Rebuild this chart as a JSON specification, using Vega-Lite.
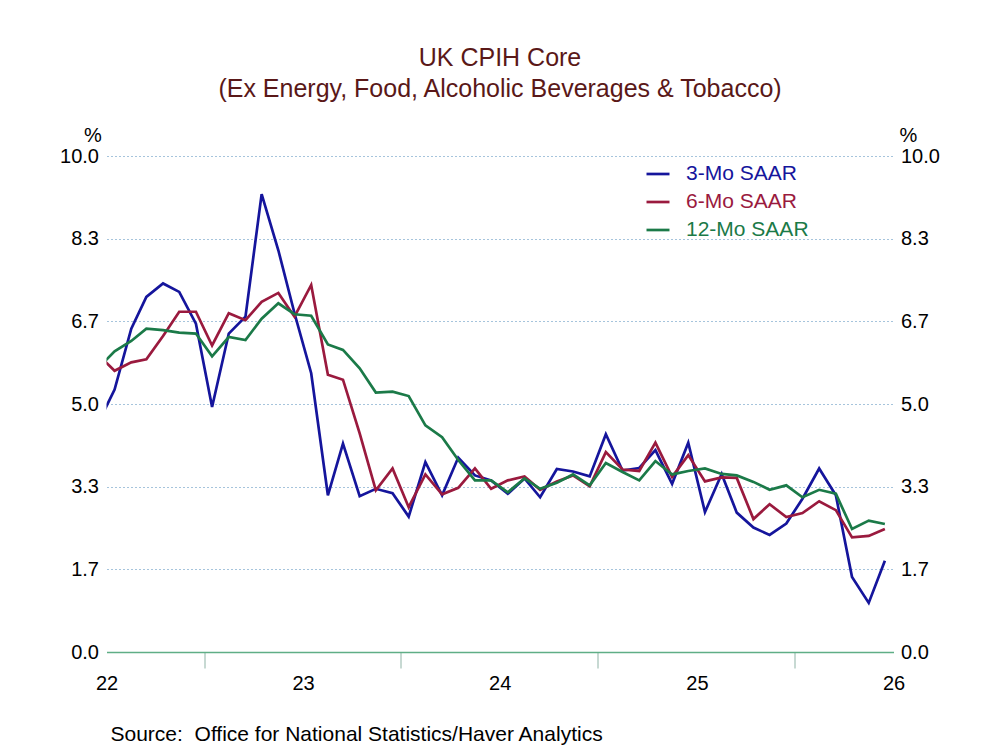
{
  "$schema": "https://vega.github.io/schema/vega-lite/v6.json",
  "width": 787,
  "height": 496,
  "autosize": {"type": "none"},
  "padding": {"left": 106.5, "top": 156, "right": 106.5, "bottom": 98},
  "background": "white",
  "config": {"view": {"stroke": null}, "font": "Liberation Sans"},
  "title": {
    "text": ["UK CPIH Core", "(Ex Energy, Food, Alcoholic Beverages & Tobacco)"],
    "font": "Liberation Sans",
    "fontSize": 25,
    "fontWeight": "normal",
    "color": "#5a1818",
    "lineHeight": 31,
    "anchor": "middle",
    "offset": 23
  },
  "data": {
    "values": [
      {"date": "2021-12-16", "3-Mo SAAR": 4.60, "6-Mo SAAR": 6.00, "12-Mo SAAR": 5.72},
      {"date": "2022-01-16", "3-Mo SAAR": 5.29, "6-Mo SAAR": 5.67, "12-Mo SAAR": 6.06},
      {"date": "2022-02-16", "3-Mo SAAR": 6.52, "6-Mo SAAR": 5.84, "12-Mo SAAR": 6.27},
      {"date": "2022-03-16", "3-Mo SAAR": 7.16, "6-Mo SAAR": 5.90, "12-Mo SAAR": 6.52},
      {"date": "2022-04-16", "3-Mo SAAR": 7.43, "6-Mo SAAR": 6.37, "12-Mo SAAR": 6.49},
      {"date": "2022-05-16", "3-Mo SAAR": 7.26, "6-Mo SAAR": 6.86, "12-Mo SAAR": 6.44},
      {"date": "2022-06-16", "3-Mo SAAR": 6.62, "6-Mo SAAR": 6.86, "12-Mo SAAR": 6.42},
      {"date": "2022-07-16", "3-Mo SAAR": 4.94, "6-Mo SAAR": 6.18, "12-Mo SAAR": 5.96},
      {"date": "2022-08-16", "3-Mo SAAR": 6.42, "6-Mo SAAR": 6.83, "12-Mo SAAR": 6.35},
      {"date": "2022-09-16", "3-Mo SAAR": 6.76, "6-Mo SAAR": 6.69, "12-Mo SAAR": 6.29},
      {"date": "2022-10-16", "3-Mo SAAR": 9.23, "6-Mo SAAR": 7.06, "12-Mo SAAR": 6.72},
      {"date": "2022-11-16", "3-Mo SAAR": 8.10, "6-Mo SAAR": 7.24, "12-Mo SAAR": 7.03},
      {"date": "2022-12-16", "3-Mo SAAR": 6.83, "6-Mo SAAR": 6.76, "12-Mo SAAR": 6.81},
      {"date": "2023-01-16", "3-Mo SAAR": 5.62, "6-Mo SAAR": 7.40, "12-Mo SAAR": 6.78},
      {"date": "2023-02-16", "3-Mo SAAR": 3.16, "6-Mo SAAR": 5.59, "12-Mo SAAR": 6.20},
      {"date": "2023-03-16", "3-Mo SAAR": 4.20, "6-Mo SAAR": 5.49, "12-Mo SAAR": 6.09},
      {"date": "2023-04-16", "3-Mo SAAR": 3.14, "6-Mo SAAR": 4.41, "12-Mo SAAR": 5.72},
      {"date": "2023-05-16", "3-Mo SAAR": 3.29, "6-Mo SAAR": 3.26, "12-Mo SAAR": 5.23},
      {"date": "2023-06-16", "3-Mo SAAR": 3.20, "6-Mo SAAR": 3.70, "12-Mo SAAR": 5.25},
      {"date": "2023-07-16", "3-Mo SAAR": 2.73, "6-Mo SAAR": 2.92, "12-Mo SAAR": 5.16},
      {"date": "2023-08-16", "3-Mo SAAR": 3.83, "6-Mo SAAR": 3.58, "12-Mo SAAR": 4.57},
      {"date": "2023-09-16", "3-Mo SAAR": 3.16, "6-Mo SAAR": 3.18, "12-Mo SAAR": 4.33},
      {"date": "2023-10-16", "3-Mo SAAR": 3.92, "6-Mo SAAR": 3.31, "12-Mo SAAR": 3.87},
      {"date": "2023-11-16", "3-Mo SAAR": 3.56, "6-Mo SAAR": 3.70, "12-Mo SAAR": 3.46},
      {"date": "2023-12-16", "3-Mo SAAR": 3.46, "6-Mo SAAR": 3.29, "12-Mo SAAR": 3.46},
      {"date": "2024-01-16", "3-Mo SAAR": 3.19, "6-Mo SAAR": 3.46, "12-Mo SAAR": 3.22},
      {"date": "2024-02-16", "3-Mo SAAR": 3.50, "6-Mo SAAR": 3.54, "12-Mo SAAR": 3.50},
      {"date": "2024-03-16", "3-Mo SAAR": 3.12, "6-Mo SAAR": 3.27, "12-Mo SAAR": 3.29},
      {"date": "2024-04-16", "3-Mo SAAR": 3.69, "6-Mo SAAR": 3.44, "12-Mo SAAR": 3.41},
      {"date": "2024-05-16", "3-Mo SAAR": 3.64, "6-Mo SAAR": 3.56, "12-Mo SAAR": 3.58},
      {"date": "2024-06-16", "3-Mo SAAR": 3.54, "6-Mo SAAR": 3.34, "12-Mo SAAR": 3.36},
      {"date": "2024-07-16", "3-Mo SAAR": 4.39, "6-Mo SAAR": 4.03, "12-Mo SAAR": 3.81},
      {"date": "2024-08-16", "3-Mo SAAR": 3.66, "6-Mo SAAR": 3.68, "12-Mo SAAR": 3.63},
      {"date": "2024-09-16", "3-Mo SAAR": 3.71, "6-Mo SAAR": 3.65, "12-Mo SAAR": 3.46},
      {"date": "2024-10-16", "3-Mo SAAR": 4.07, "6-Mo SAAR": 4.22, "12-Mo SAAR": 3.85},
      {"date": "2024-11-16", "3-Mo SAAR": 3.39, "6-Mo SAAR": 3.53, "12-Mo SAAR": 3.58},
      {"date": "2024-12-16", "3-Mo SAAR": 4.22, "6-Mo SAAR": 3.97, "12-Mo SAAR": 3.65},
      {"date": "2025-01-16", "3-Mo SAAR": 2.82, "6-Mo SAAR": 3.44, "12-Mo SAAR": 3.70},
      {"date": "2025-02-16", "3-Mo SAAR": 3.59, "6-Mo SAAR": 3.52, "12-Mo SAAR": 3.59},
      {"date": "2025-03-16", "3-Mo SAAR": 2.81, "6-Mo SAAR": 3.51, "12-Mo SAAR": 3.56},
      {"date": "2025-04-16", "3-Mo SAAR": 2.51, "6-Mo SAAR": 2.68, "12-Mo SAAR": 3.43},
      {"date": "2025-05-16", "3-Mo SAAR": 2.36, "6-Mo SAAR": 2.98, "12-Mo SAAR": 3.27},
      {"date": "2025-06-16", "3-Mo SAAR": 2.59, "6-Mo SAAR": 2.72, "12-Mo SAAR": 3.36},
      {"date": "2025-07-16", "3-Mo SAAR": 3.09, "6-Mo SAAR": 2.80, "12-Mo SAAR": 3.12},
      {"date": "2025-08-16", "3-Mo SAAR": 3.70, "6-Mo SAAR": 3.04, "12-Mo SAAR": 3.27},
      {"date": "2025-09-16", "3-Mo SAAR": 3.16, "6-Mo SAAR": 2.86, "12-Mo SAAR": 3.19},
      {"date": "2025-10-16", "3-Mo SAAR": 1.51, "6-Mo SAAR": 2.31, "12-Mo SAAR": 2.48},
      {"date": "2025-11-16", "3-Mo SAAR": 0.99, "6-Mo SAAR": 2.34, "12-Mo SAAR": 2.65},
      {"date": "2025-12-16", "3-Mo SAAR": 1.84, "6-Mo SAAR": 2.48, "12-Mo SAAR": 2.58}
    ]
  },
  "transform": [
    {"fold": ["3-Mo SAAR", "6-Mo SAAR", "12-Mo SAAR"], "as": ["series", "value"]}
  ],
  "layer": [
    {
      "mark": {"type": "line", "strokeWidth": 2.7, "clip": true},
      "encoding": {
        "x": {
          "field": "date",
          "type": "temporal",
          "scale": {
            "type": "utc",
            "domain": [
              {"year": 2022, "month": 1, "date": 1, "utc": true},
              {"year": 2026, "month": 1, "date": 1, "utc": true}
            ]
          },
          "axis": {
            "values": [
              {"year": 2022, "month": 1, "date": 1, "utc": true},
              {"year": 2023, "month": 1, "date": 1, "utc": true},
              {"year": 2024, "month": 1, "date": 1, "utc": true},
              {"year": 2025, "month": 1, "date": 1, "utc": true},
              {"year": 2026, "month": 1, "date": 1, "utc": true}
            ],
            "labelExpr": "utcFormat(datum.value, '%y')",
            "labelFlush": false,
            "labelOverlap": false,
            "labelFont": "Liberation Sans",
            "labelFontSize": 20,
            "labelColor": "black",
            "labelPadding": 5,
            "tickOffset": 97.6,
            "labelOffset": -97.6,
            "tickSize": 16,
            "tickWidth": 1,
            "tickColor": "#8fb3a6",
            "tickOpacity": {"condition": {"test": "utcyear(datum.value) == 2026", "value": 0}, "value": 1},
            "domainColor": "#5fae86",
            "domainWidth": 1.5,
            "grid": false,
            "title": "Source:\u00a0 Office for National Statistics/Haver Analytics",
            "titleFont": "Liberation Sans",
            "titleFontSize": 21,
            "titleFontWeight": "normal",
            "titleColor": "black",
            "titleX": 3.5,
            "titleY": 82,
            "titleAlign": "left",
            "titleAnchor": "start",
            "titleBaseline": "middle"
          }
        },
        "y": {
          "field": "value",
          "type": "quantitative",
          "scale": {"domain": [0, 10], "nice": false, "zero": false},
          "axis": {
            "orient": "left",
            "values": [0, 1.6667, 3.3333, 5, 6.6667, 8.3333, 10],
            "format": ".1f",
            "grid": true,
            "gridColor": "#a6c4dc",
            "gridDash": [2, 2],
            "gridWidth": 1,
            "domain": false,
            "ticks": false,
            "labelFont": "Liberation Sans",
            "labelFontSize": 20,
            "labelColor": "black",
            "labelPadding": 8,
            "title": "%",
            "titleAngle": 0,
            "titleX": -14,
            "titleY": -21,
            "titleAlign": "center",
            "titleBaseline": "middle",
            "titleFont": "Liberation Sans",
            "titleFontSize": 20,
            "titleFontWeight": "normal",
            "titleColor": "black"
          }
        },
        "color": {
          "field": "series",
          "type": "nominal",
          "sort": ["3-Mo SAAR", "6-Mo SAAR", "12-Mo SAAR"],
          "scale": {
            "domain": ["3-Mo SAAR", "6-Mo SAAR", "12-Mo SAAR"],
            "range": ["#15159c", "#9a1a3e", "#1b7a48"]
          },
          "legend": {
            "orient": "none",
            "legendX": 538.5,
            "legendY": 5,
            "title": null,
            "symbolType": "stroke",
            "symbolSize": 529,
            "symbolStrokeWidth": 2.7,
            "labelFont": "Liberation Sans",
            "labelFontSize": 21,
            "labelOffset": 15,
            "rowPadding": 5,
            "padding": 0,
            "encode": {"labels": {"update": {"fill": {"scale": "color", "field": "value"}}}}
          }
        }
      }
    },
    {
      "mark": {"type": "line", "strokeOpacity": 0, "clip": true},
      "encoding": {
        "x": {"field": "date", "type": "temporal"},
        "y": {
          "field": "value",
          "type": "quantitative",
          "scale": {"domain": [0, 10], "nice": false, "zero": false},
          "axis": {
            "orient": "right",
            "values": [0, 1.6667, 3.3333, 5, 6.6667, 8.3333, 10],
            "format": ".1f",
            "grid": false,
            "domain": false,
            "ticks": false,
            "labelFont": "Liberation Sans",
            "labelFontSize": 20,
            "labelColor": "black",
            "labelPadding": 7,
            "title": "%",
            "titleAngle": 0,
            "titleX": 14.5,
            "titleY": -21,
            "titleAlign": "center",
            "titleBaseline": "middle",
            "titleFont": "Liberation Sans",
            "titleFontSize": 20,
            "titleFontWeight": "normal",
            "titleColor": "black"
          }
        },
        "detail": {"field": "series", "type": "nominal"}
      }
    }
  ],
  "resolve": {"scale": {"y": "independent"}}
}
